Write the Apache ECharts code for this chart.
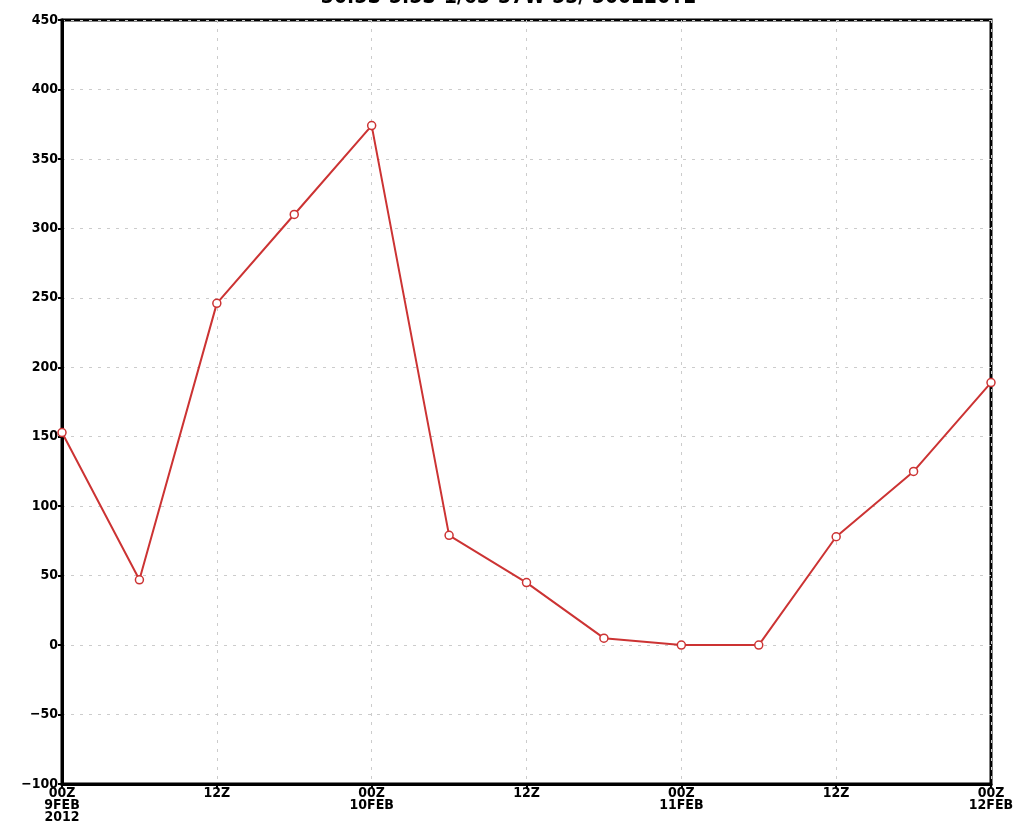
<!DOCTYPE html>
<html>
<head>
<meta charset="utf-8">
<script src="https://cdn.jsdelivr.net/npm/echarts@6/dist/echarts.min.js"></script>
<style>html,body{margin:0;padding:0;background:#fff;}#c{width:1017px;height:838px;}</style>
</head>
<body>
<div id="c"></div>
<script>
var categories = ['00Z\n9FEB\n2012','06Z','12Z','18Z','00Z\n10FEB','06Z','12Z','18Z','00Z\n11FEB','06Z','12Z','18Z','00Z\n12FEB'];
var values = [153, 47, 246, 310, 374, 79, 45, 5, 0, 0, 78, 125, 189];
var yTicks = {min: -100, max: 450, interval: 50};
var titleText = '30.5S-5.5S-1/63-37W-53/ 500E20TE';

var chart = echarts.init(document.getElementById('c'));
chart.setOption({
  animation: false,
  backgroundColor: '#fff',
  graphic: [{
    type: 'text', left: 'center', top: -13,
    style: {text: titleText, font: 'bold 21px "DejaVu Sans Condensed", sans-serif', fill: '#000'}
  }],
  grid: {left: 62, right: 26, top: 20, bottom: 54, show: true, borderColor: '#000', borderWidth: 3},
  xAxis: {
    type: 'category', data: categories, boundaryGap: false,
    axisLine: {onZero: false, lineStyle: {color: '#000', width: 3}},
    axisTick: {show: true, interval: 1, length: 4, lineStyle: {color: '#000', width: 2}},
    axisLabel: {interval: 1, color: '#000', fontFamily: 'DejaVu Sans Condensed', fontWeight: 'bold', fontSize: 14, lineHeight: 12, margin: 3},
    splitLine: {show: true, interval: 1, lineStyle: {color: '#ccc', type: [3, 6], width: 1}}
  },
  yAxis: {
    type: 'value', min: yTicks.min, max: yTicks.max, interval: yTicks.interval,
    axisLine: {show: true, lineStyle: {color: '#000', width: 3}},
    axisTick: {show: true, length: 4, lineStyle: {color: '#000', width: 2}},
    axisLabel: {color: '#000', fontFamily: 'DejaVu Sans Condensed', fontWeight: 'bold', fontSize: 14, margin: 4,
      formatter: function (v) { return v < 0 ? '\u2212' + Math.abs(v) : String(v); }},
    splitLine: {show: true, lineStyle: {color: '#ccc', type: [3, 6], width: 1}}
  },
  series: [{
    type: 'line', data: values,
    symbol: 'circle', symbolSize: 8, showAllSymbol: true,
    lineStyle: {color: '#cc3333', width: 2},
    itemStyle: {color: '#fff', borderColor: '#cc3333', borderWidth: 1.5}
  }]
});
</script>
</body>
</html>
